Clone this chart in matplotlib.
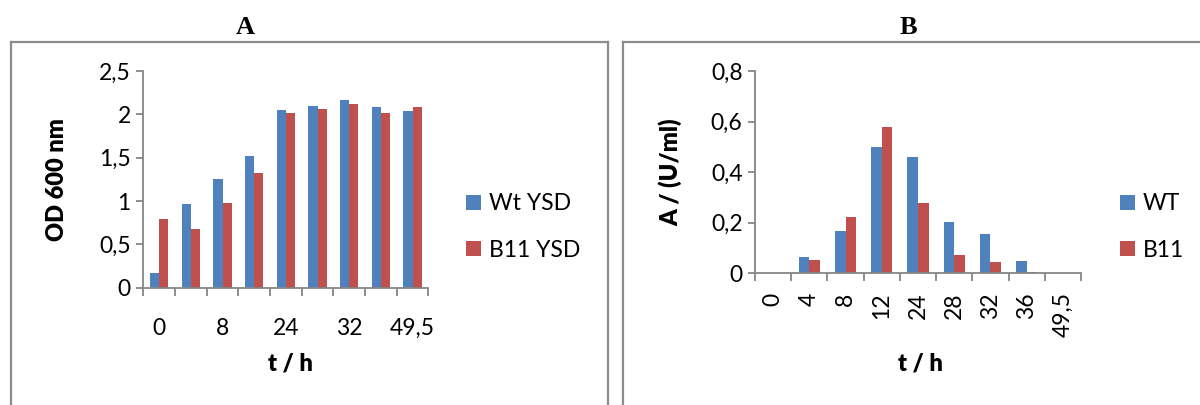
import matplotlib
matplotlib.use("Agg")
import matplotlib.pyplot as plt
from matplotlib.lines import Line2D
import numpy as np

# ---- data ----
times = ["0", "4", "8", "12", "24", "28", "32", "36", "49,5"]
od_wt = [0.17, 0.96, 1.25, 1.52, 2.05, 2.10, 2.16, 2.09, 2.04]
od_b11 = [0.79, 0.68, 0.98, 1.32, 2.01, 2.06, 2.12, 2.02, 2.09]
act_wt = [0.0, 0.062, 0.166, 0.499, 0.459, 0.202, 0.154, 0.048, 0.0]
act_b11 = [0.0, 0.053, 0.223, 0.578, 0.279, 0.070, 0.044, 0.004, 0.0]
a_ticks = [0, 0.5, 1, 1.5, 2, 2.5]
a_ticklabels = ["0", "0,5", "1", "1,5", "2", "2,5"]
b_ticks = [0, 0.2, 0.4, 0.6, 0.8]
b_ticklabels = ["0", "0,2", "0,4", "0,6", "0,8"]

BLUE = "#4F81BD"
RED = "#C0504D"
GRAY = "#868686"
SANS = ["Lato", "DejaVu Sans"]
SERIF = ["Liberation Serif", "DejaVu Serif"]
TICK_FS = 16.5
LAB_FS = 17

W, H = 1200, 405
fig = plt.figure(figsize=(W / 100, H / 100), dpi=100)


def px_axes(x0, x1, y_top, y_bot):
    return fig.add_axes([x0 / W, 1 - y_bot / H, (x1 - x0) / W, (y_bot - y_top) / H])


def style(ax, yt, ytl, ylim):
    n = len(times)
    ax.set_xlim(-0.5, n - 0.5)
    ax.set_ylim(*ylim)
    for s in ("top", "right"):
        ax.spines[s].set_visible(False)
    for s in ("left", "bottom"):
        ax.spines[s].set_color(GRAY)
        ax.spines[s].set_linewidth(1.3)
    ax.set_yticks(yt)
    ax.set_yticklabels(ytl, fontfamily=SANS, fontsize=TICK_FS)
    ax.tick_params(axis="y", direction="out", length=5, width=1.3, color=GRAY, pad=4)
    ax.set_xticks(np.arange(-0.5, n, 1.0), minor=True)
    ax.tick_params(axis="x", which="minor", direction="out", length=6, width=1.3, color=GRAY)
    ax.tick_params(axis="x", which="major", length=0)


bw = 0.29
x = np.arange(len(times))

# ---- Panel A ----
axA = px_axes(143.3, 428.5, 71, 287.7)
axA.bar(x - bw / 2, od_wt, bw, color=BLUE, label="Wt YSD")
axA.bar(x + bw / 2, od_b11, bw, color=RED, label="B11 YSD")
style(axA, a_ticks, a_ticklabels, (0, 2.5))
axA.set_xticks(x[::2])
axA.set_xticklabels(times[::2], fontfamily=SANS, fontsize=TICK_FS)
axA.tick_params(axis="x", which="major", pad=22)
axA.legend(loc="center left", bbox_to_anchor=(466 / W, 1 - 227 / H),
           bbox_transform=fig.transFigure, frameon=False,
           prop={"family": SANS, "size": TICK_FS}, handlelength=0.65,
           handleheight=0.65, handletextpad=0.35, labelspacing=1.1, borderpad=0,
           borderaxespad=0)

# ---- Panel B ----
axB = px_axes(755, 1081, 71, 273)
axB.bar(x - bw / 2, act_wt, bw, color=BLUE, label="WT")
axB.bar(x + bw / 2, act_b11, bw, color=RED, label="B11")
style(axB, b_ticks, b_ticklabels, (0, 0.8))
axB.set_xticks(x)
axB.set_xticklabels(times, fontfamily=SANS, fontsize=TICK_FS, rotation=90)
axB.tick_params(axis="x", which="major", pad=14)
axB.legend(loc="center left", bbox_to_anchor=(1120 / W, 1 - 227 / H),
           bbox_transform=fig.transFigure, frameon=False,
           prop={"family": SANS, "size": TICK_FS}, handlelength=0.65,
           handleheight=0.65, handletextpad=0.35, labelspacing=1.1, borderpad=0,
           borderaxespad=0)

# ---- labels ----
fig.text(245 / W, 1 - 27 / H, "A", family=SERIF, weight="bold", fontsize=19, ha="center", va="center")
fig.text(908 / W, 1 - 27 / H, "B", family=SERIF, weight="bold", fontsize=19, ha="center", va="center")
fig.text(57 / W, 1 - 180 / H, "OD 600 nm", family=SANS, weight="heavy", fontsize=LAB_FS,
         rotation=90, ha="center", va="center")
fig.text(670 / W, 1 - 172 / H, "A / (U/ml)", family=SANS, weight="heavy", fontsize=LAB_FS,
         rotation=90, ha="center", va="center")
fig.text(290 / W, 1 - 363 / H, "t / h", family=SANS, weight="heavy", fontsize=LAB_FS, ha="center", va="center")
fig.text(920 / W, 1 - 363 / H, "t / h", family=SANS, weight="heavy", fontsize=LAB_FS, ha="center", va="center")

# ---- panel frames ----
FRAME = "#8C8C8C"
for (x0, x1) in ((10.5, 607.5), (622.5, 1210)):
    fig.add_artist(Line2D([x0 / W, x0 / W], [1 - 42 / H, -0.05], transform=fig.transFigure,
                          color=FRAME, lw=1.6))
    fig.add_artist(Line2D([x0 / W, x1 / W], [1 - 42 / H, 1 - 42 / H], transform=fig.transFigure,
                          color=FRAME, lw=1.6))
fig.add_artist(Line2D([607.5 / W, 607.5 / W], [1 - 42 / H, -0.05], transform=fig.transFigure,
                      color=FRAME, lw=1.6))

fig.savefig("out.png", dpi=100)
